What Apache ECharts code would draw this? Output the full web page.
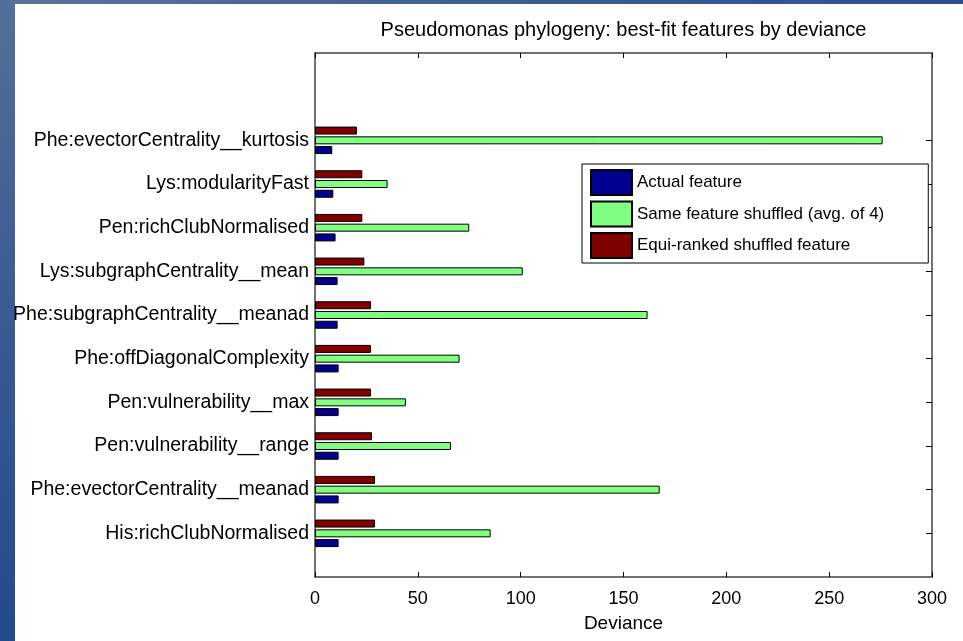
<!DOCTYPE html>
<html>
<head>
<meta charset="utf-8">
<script src="https://cdn.jsdelivr.net/npm/echarts@6/dist/echarts.min.js"></script>
<style>
html,body{margin:0;padding:0;width:963px;height:641px;overflow:hidden;}
body{background:linear-gradient(90deg,#5a7399 0%,#3e5f94 50%,#2b4f92 100%);position:relative;}
#side{position:absolute;left:0;top:0;width:15px;height:641px;background:linear-gradient(180deg,#546f98 0%,#3a5a92 50%,#24498d 100%);}
#paper{position:absolute;left:15px;top:4px;right:0;bottom:0;background:#fff;}
#chart{position:absolute;left:0;top:0;width:963px;height:641px;}
</style>
</head>
<body>
<div id="side"></div>
<div id="paper"></div>
<div id="chart"></div>
<script>
// Features, listed top to bottom as in the picture
const features = [
  'Phe:evectorCentrality__kurtosis',
  'Lys:modularityFast',
  'Pen:richClubNormalised',
  'Lys:subgraphCentrality__mean',
  'Phe:subgraphCentrality__meanad',
  'Phe:offDiagonalComplexity',
  'Pen:vulnerability__max',
  'Pen:vulnerability__range',
  'Phe:evectorCentrality__meanad',
  'His:richClubNormalised'
];
const actualFeature   = [8.4, 8.9, 10.0, 11.0, 11.0, 11.5, 11.5, 11.5, 11.5, 11.5];
const sameShuffled    = [276, 35.3, 75.0, 101.0, 161.7, 70.3, 44.2, 66.1, 167.6, 85.4];
const equiRanked      = [20.4, 23.0, 23.0, 24.0, 27.2, 27.2, 27.2, 27.7, 29.2, 29.2];
const seriesNames = ['Actual feature', 'Same feature shuffled (avg. of 4)', 'Equi-ranked shuffled feature'];
const seriesColors = ['#00008f', '#80ff80', '#800000'];
const xTicks = [0, 50, 100, 150, 200, 250, 300];

// Axis runs 0..12 with features at positions 1..10 (bottom to top)
const cats = [''].concat(features.slice().reverse()).concat(['', '']);
function pad(arr) { return [null].concat(arr.slice().reverse()).concat([null, null]); }
const showIdx = (i) => i >= 1 && i <= features.length;

const FONT = "'Liberation Sans', Arial, Helvetica, sans-serif";
const axisLine = { show: true, onZero: false, lineStyle: { color: '#444', width: 1.5 } };
const xTick = { show: true, inside: true, length: 5, lineStyle: { color: '#000' } };
const yTick = { show: true, inside: true, length: 6, interval: (i) => showIdx(i), lineStyle: { color: '#000' } };

const chart = echarts.init(document.getElementById('chart'), null, { renderer: 'canvas' });
function bar(k) {
  const vals = [actualFeature, sameShuffled, equiRanked][k];
  return {
    type: 'bar', name: seriesNames[k], data: pad(vals),
    xAxisIndex: 0, yAxisIndex: 0,
    barWidth: 8, barGap: '22%',
    itemStyle: { color: seriesColors[k], borderColor: '#000', borderWidth: 1 },
    emphasis: { disabled: true }, animation: false
  };
}
const xBase = { type: 'value', min: xTicks[0], max: xTicks[xTicks.length - 1], interval: 50, splitLine: { show: false }, axisLine, axisTick: xTick };
const yBase = { type: 'category', data: cats, boundaryGap: false, splitLine: { show: false }, axisLine, axisTick: yTick };
chart.setOption({
  backgroundColor: 'transparent',
  animation: false,
  textStyle: { fontFamily: FONT },
  grid: { left: 315, top: 53, right: 31, bottom: 64, containLabel: false },
  legend: {
    left: 582, top: 164,
    orient: 'vertical',
    data: seriesNames,
    icon: 'rect',
    itemWidth: 41, itemHeight: 25, itemGap: 4.5,
    padding: [5, 44, 4, 8],
    borderColor: '#000', borderWidth: 1,
    backgroundColor: '#fff',
    textStyle: { fontSize: 17, lineHeight: 22, color: '#000', fontFamily: FONT },
    selectedMode: false
  },
  xAxis: [
    Object.assign({}, xBase, {
      position: 'bottom',
      axisLabel: { fontSize: 18, color: '#000', margin: 13, fontFamily: FONT },
      name: 'Deviance', nameLocation: 'middle', nameGap: 37,
      nameTextStyle: { fontSize: 19, color: '#000', fontFamily: FONT }
    }),
    Object.assign({}, xBase, {
      position: 'top',
      axisLabel: { show: false },
      name: 'Pseudomonas phylogeny: best-fit features by deviance', nameLocation: 'middle', nameGap: 13,
      nameTextStyle: { fontSize: 20, color: '#000', fontFamily: FONT }
    })
  ],
  yAxis: [
    Object.assign({}, yBase, {
      position: 'left',
      axisLabel: { fontSize: 19.5, color: '#000', margin: 6, interval: (i) => showIdx(i), fontFamily: FONT }
    }),
    Object.assign({}, yBase, {
      position: 'right',
      axisLabel: { show: false }
    })
  ],
  // drawn top-to-bottom within each group: equi-ranked, same-shuffled, actual
  series: [bar(2), bar(1), bar(0)]
});
</script>
</body>
</html>
